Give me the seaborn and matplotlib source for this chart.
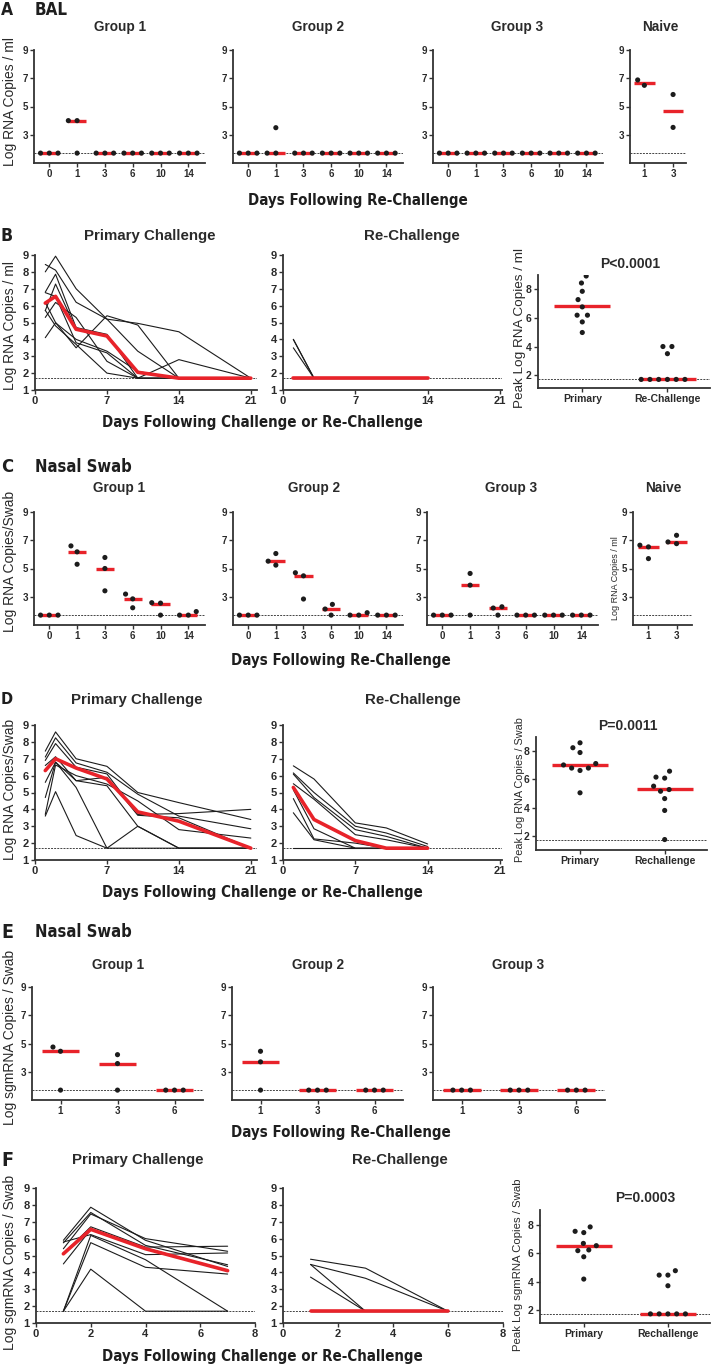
import numpy as np
import pandas as pd
import matplotlib
matplotlib.use("Agg")
import matplotlib.pyplot as plt
from matplotlib import font_manager
import seaborn as sns

# ---------------- data (log10 RNA copies, LOD = 1.7) ----------------
LOD = 1.7

# A - BAL, days after re-challenge
bal_days = ["0", "1", "3", "6", "10", "14"]
bal_g1 = [[1.7, 1.7, 1.7], [4.0, 4.0, 1.7], [1.7, 1.7, 1.7], [1.7, 1.7, 1.7], [1.7, 1.7, 1.7], [1.7, 1.7, 1.7]]
bal_g1_med = [1.7, 4.0, 1.7, 1.7, 1.7, 1.7]
bal_g2 = [[1.7, 1.7, 1.7], [3.5, 1.7, 1.7], [1.7, 1.7, 1.7], [1.7, 1.7, 1.7], [1.7, 1.7, 1.7], [1.7, 1.7, 1.7]]
bal_g2_med = [1.7, 1.7, 1.7, 1.7, 1.7, 1.7]
bal_g3 = [[1.7, 1.7, 1.7], [1.7, 1.7, 1.7], [1.7, 1.7, 1.7], [1.7, 1.7, 1.7], [1.7, 1.7, 1.7], [1.7, 1.7, 1.7]]
bal_g3_med = [1.7, 1.7, 1.7, 1.7, 1.7, 1.7]
naive_days = ["1", "3"]
bal_naive = [[6.88, 6.5], [5.85, 3.52]]
bal_naive_med = [6.69, 4.69]

# B - BAL, primary vs re-challenge kinetics
b_prim_days = [1, 2, 4, 7, 10, 14, 21]
b_prim = [
    [8.0, 8.93, 7.0, 5.2, 3.3, 1.7, 1.7],
    [8.44, 8.1, 6.2, 5.2, 4.95, 4.45, 1.7],
    [6.8, 7.86, 4.7, 4.3, 1.7, 2.8, 1.7],
    [5.7, 7.28, 4.6, 4.2, 2.05, 1.7, 1.7],
    [6.77, 6.55, 3.8, 3.2, 1.7, 1.7, 1.7],
    [6.19, 5.0, 3.5, 5.4, 4.85, 1.7, 1.7],
    [5.3, 6.19, 5.3, 2.7, 1.7, 1.7, 1.7],
    [5.72, 4.8, 3.7, 2.0, 1.7, 1.7, 1.7],
    [4.1, 4.98, 4.0, 3.3, 2.1, 1.7, 1.7],
]
b_prim_med = [6.15, 6.55, 4.6, 4.2, 2.05, 1.7, 1.7]
b_re_days = [1, 3, 7, 10, 14]
b_re = [
    [4.0, 1.7, 1.7, 1.7, 1.7],
    [4.0, 1.7, 1.7, 1.7, 1.7],
    [3.5, 1.7, 1.7, 1.7, 1.7],
    [1.7, 1.7, 1.7, 1.7, 1.7],
    [1.7, 1.7, 1.7, 1.7, 1.7],
    [1.7, 1.7, 1.7, 1.7, 1.7],
    [1.7, 1.7, 1.7, 1.7, 1.7],
    [1.7, 1.7, 1.7, 1.7, 1.7],
    [1.7, 1.7, 1.7, 1.7, 1.7],
]
b_re_med = [1.7, 1.7, 1.7, 1.7, 1.7]
b_peak_cats = ["Primary", "Re-Challenge"]
b_peak_prim = [8.93, 8.44, 7.86, 7.28, 6.77, 6.19, 6.19, 5.72, 4.98]
b_peak_re = [4.0, 4.0, 3.5, 1.7, 1.7, 1.7, 1.7, 1.7, 1.7]
b_peak_med = [6.8, 1.7]

# C - nasal swab, days after re-challenge
ns_g1 = [[1.7, 1.7, 1.7], [6.6, 6.18, 5.3], [5.78, 5.0, 3.42], [3.19, 2.85, 2.22], [2.58, 2.55, 1.7], [1.95, 1.7, 1.7]]
ns_g1_med = [1.7, 6.18, 5.0, 2.85, 2.52, 1.7]
ns_g2 = [[1.7, 1.7, 1.7], [6.06, 5.52, 5.24], [4.7, 4.48, 2.84], [2.46, 2.13, 1.7], [1.87, 1.7, 1.7], [1.7, 1.7, 1.7]]
ns_g2_med = [1.7, 5.52, 4.5, 2.13, 1.7, 1.7]
ns_g3 = [[1.7, 1.7, 1.7], [4.65, 3.82, 1.7], [2.29, 2.2, 1.7], [1.7, 1.7, 1.7], [1.7, 1.7, 1.7], [1.7, 1.7, 1.7]]
ns_g3_med = [1.7, 3.82, 2.2, 1.7, 1.7, 1.7]
ns_naive = [[6.65, 6.53, 5.7], [7.35, 6.76, 6.88]]
ns_naive_med = [6.55, 6.86]

# D - nasal swab kinetics
d_prim = [
    [7.45, 8.59, 7.0, 6.55, 5.0, 4.4, 3.4],
    [7.1, 8.24, 6.75, 6.2, 4.9, 3.6, 2.85],
    [6.9, 7.9, 6.5, 6.1, 3.7, 3.75, 4.0],
    [6.6, 7.12, 5.7, 5.9, 3.65, 3.5, 1.7],
    [6.3, 7.02, 6.45, 5.8, 3.85, 3.3, 1.7],
    [5.6, 6.8, 5.3, 1.7, 3.0, 1.7, 1.7],
    [4.7, 6.8, 5.7, 5.4, 3.0, 1.7, 1.7],
    [3.7, 6.63, 6.0, 5.5, 4.5, 2.8, 2.3],
    [3.6, 5.05, 2.45, 1.7, 1.7, 1.7, 1.7],
]
d_prim_med = [6.3, 7.0, 6.45, 5.8, 3.85, 3.3, 1.7]
d_re = [
    [6.58, 5.8, 3.2, 2.9, 1.95],
    [6.16, 5.0, 3.0, 2.6, 1.8],
    [6.09, 4.7, 2.8, 2.4, 1.7],
    [5.52, 4.6, 2.5, 2.2, 1.7],
    [5.28, 3.4, 2.15, 1.7, 1.7],
    [5.16, 2.85, 1.7, 1.7, 1.7],
    [4.64, 2.25, 2.0, 1.7, 1.7],
    [3.8, 2.2, 1.7, 1.7, 1.7],
    [1.7, 1.7, 1.7, 1.7, 1.7],
]
d_re_med = [5.3, 3.4, 2.15, 1.7, 1.7]
d_peak_cats = ["Primary", "Rechallenge"]
d_peak_prim = [8.59, 8.24, 7.9, 7.12, 7.02, 6.8, 6.8, 6.63, 5.05]
d_peak_re = [6.58, 6.16, 6.09, 5.52, 5.28, 5.16, 4.64, 3.8, 1.74]
d_peak_med = [7.0, 5.3]

# E - nasal swab sgmRNA
sg_days = ["1", "3", "6"]
sg_g1 = [[4.75, 4.45, 1.7], [4.21, 3.58, 1.7], [1.7, 1.7, 1.7]]
sg_g1_med = [4.45, 3.58, 1.7]
sg_g2 = [[4.45, 3.7, 1.7], [1.7, 1.7, 1.7], [1.7, 1.7, 1.7]]
sg_g2_med = [3.7, 1.7, 1.7]
sg_g3 = [[1.7, 1.7, 1.7], [1.7, 1.7, 1.7], [1.7, 1.7, 1.7]]
sg_g3_med = [1.7, 1.7, 1.7]

# F - sgmRNA kinetics
f_prim_days = [1, 2, 4, 7]
f_prim = [
    [5.9, 7.86, 5.9, 4.35],
    [5.75, 7.55, 5.6, 4.45],
    [5.4, 7.46, 6.0, 5.25],
    [5.1, 6.7, 5.5, 5.55],
    [4.5, 6.54, 5.45, 4.1],
    [5.8, 6.24, 5.05, 5.15],
    [1.7, 6.19, 4.75, 1.7],
    [1.7, 5.76, 4.3, 3.9],
    [1.7, 4.19, 1.7, 1.7],
]
f_prim_med = [5.1, 6.55, 5.4, 4.1]
f_re_days = [1, 3, 6]
f_re = [
    [4.78, 4.25, 1.7],
    [4.47, 3.65, 1.7],
    [4.47, 1.7, 1.7],
    [3.72, 1.7, 1.7],
    [1.7, 1.7, 1.7],
    [1.7, 1.7, 1.7],
    [1.7, 1.7, 1.7],
    [1.7, 1.7, 1.7],
    [1.7, 1.7, 1.7],
]
f_re_med = [1.7, 1.7, 1.7]
f_peak_prim = [7.86, 7.55, 7.46, 6.7, 6.54, 6.24, 6.19, 5.76, 4.19]
f_peak_re = [4.78, 4.47, 4.47, 3.72, 1.74, 1.74, 1.74, 1.74, 1.74]
f_peak_med = [6.54, 1.74]

# ---------------- style ----------------
sns.set_style("ticks")
plt.rcParams["font.family"] = ["Liberation Sans", "DejaVu Sans"]
plt.rcParams["font.weight"] = "bold"

# a condensed bold face for the panel headers / x labels, if one is installed
COND = {"family": ["Liberation Sans", "DejaVu Sans"]}
_fonts = font_manager.fontManager.ttflist
if any(f.name == "Liberation Sans Narrow" for f in _fonts):
    COND = {"family": ["Liberation Sans Narrow"]}
elif any(f.name == "DejaVu Sans" and "condensed" in str(f.stretch) for f in _fonts):
    COND = {"family": ["DejaVu Sans"], "stretch": "condensed"}

RED = "#e8232a"
DOT = "#1c1c1c"
LINE = "#1c1c1c"
AXC = "#333333"
TXT = "#2a2a2a"
DASH = "#444444"

W, H = 712, 1366
fig = plt.figure(figsize=(W / 100, H / 100), dpi=100)
to_fit = []


def px_ax(x0, x1, y0, y1):
    return fig.add_axes([x0 / W, 1 - y1 / H, (x1 - x0) / W, (y1 - y0) / H])


def txt(x, y, s, size, weight="bold", rot=0, ha="center"):
    return fig.text(x / W, 1 - y / H, s, fontsize=size, fontweight=weight, rotation=rot,
                    ha=ha, va="center", color=TXT, family=["Liberation Sans", "DejaVu Sans"])


def ctxt(x, y, s, size, width, ha="center"):
    # condensed header text, later scaled toward a width of `width` pixels
    t = fig.text(x / W, 1 - y / H, s, fontsize=size, fontweight="bold",
                 ha=ha, va="center", color="#1e1e1e", **COND)
    to_fit.append((t, width, size))
    return t


def clean(ax, fs):
    sns.despine(ax=ax)
    for s in ("left", "bottom"):
        ax.spines[s].set_color(AXC)
        ax.spines[s].set_linewidth(1.3)
    ax.tick_params(length=3, width=1, color=AXC, pad=1.5, labelsize=fs, labelcolor=TXT)
    ax.set_xlabel("")
    ax.set_ylabel("")


def dots(ax, cats, groups, meds, xlim, yticks=(3, 5, 7, 9), ylim=(1, 9), fs=7, half=0.33):
    df = pd.DataFrame({"cat": [c for c, g in zip(cats, groups) for _ in g],
                       "val": [v for g in groups for v in g]})
    ax.axhline(LOD, color=DASH, lw=0.7, ls=(0, (2, 1.2)), zorder=1)
    sns.swarmplot(data=df, x="cat", y="val", order=cats, color=DOT, size=3.7,
                  linewidth=2.3, edgecolor="none", ax=ax, zorder=3)
    pos = np.arange(len(cats))
    ax.hlines(meds, pos - half, pos + half, color=RED, lw=2.4, zorder=2)
    ax.set_xlim(*xlim)
    ax.set_ylim(*ylim)
    ax.set_yticks(list(yticks))
    clean(ax, fs)


def lines(ax, days, animals, meds, xlim, xticks, fs=8):
    df = pd.DataFrame({"animal": [i for i, a in enumerate(animals) for _ in a],
                       "day": [d for a in animals for d in days],
                       "val": [v for a in animals for v in a]})
    ax.axhline(LOD, color=DASH, lw=0.7, ls=(0, (2, 1.2)), zorder=1)
    sns.lineplot(data=df, x="day", y="val", units="animal", estimator=None,
                 color=LINE, lw=0.8, ax=ax)
    sns.lineplot(x=days, y=meds, color=RED, lw=2.6, ax=ax)
    ax.set_xlim(*xlim)
    ax.set_xticks(xticks)
    ax.set_ylim(1, 9)
    ax.set_yticks(range(1, 10))
    clean(ax, fs)


# ---------------- A ----------------
dots(px_ax(34, 205, 50, 163), bal_days, bal_g1, bal_g1_med, (-0.55, 5.6))
dots(px_ax(233, 403, 50, 163), bal_days, bal_g2, bal_g2_med, (-0.55, 5.6))
dots(px_ax(433, 603, 50, 163), bal_days, bal_g3, bal_g3_med, (-0.55, 5.6))
dots(px_ax(630, 686, 50, 163), naive_days, bal_naive, bal_naive_med, (-0.5, 1.45), half=0.36)
ctxt(1, 10, "A", 13, 12, ha="left")
ctxt(35, 10, "BAL", 13, 33, ha="left")
for x, s in [(120, "Group 1"), (318, "Group 2"), (517, "Group 3"), (660, "Naive")]:
    txt(x, 27, s, 9.8)
txt(10, 102, "Log RNA Copies / ml", 10, weight="normal", rot=90)
ctxt(358, 200, "Days Following Re-Challenge", 12, 192)

# ---------------- B ----------------
lines(px_ax(35, 257, 255, 390), b_prim_days, b_prim, b_prim_med, (0, 21.6), [0, 7, 14, 21])
lines(px_ax(283, 502, 255, 390), b_re_days, b_re, b_re_med, (0, 21.2), [0, 7, 14, 21])
dots(px_ax(538, 710, 275, 388), b_peak_cats, [b_peak_prim, b_peak_re], b_peak_med,
     (-0.52, 1.5), yticks=(2, 4, 6, 8), ylim=(1.1, 9), fs=7.5)
ctxt(1, 236, "B", 13, 12, ha="left")
txt(150, 236, "Primary Challenge", 10.8)
txt(412, 236, "Re-Challenge", 10.8)
txt(630, 264, "P<0.0001", 10)
txt(10, 326, "Log RNA Copies / ml", 10, weight="normal", rot=90)
txt(520, 328, "Peak Log RNA Copies / ml", 9.7, weight="normal", rot=90)
ctxt(262, 423, "Days Following Challenge or Re-Challenge", 12, 282)

# ---------------- C ----------------
dots(px_ax(34, 205, 512, 625), bal_days, ns_g1, ns_g1_med, (-0.55, 5.6))
dots(px_ax(233, 403, 512, 625), bal_days, ns_g2, ns_g2_med, (-0.55, 5.6))
dots(px_ax(427, 598, 512, 625), bal_days, ns_g3, ns_g3_med, (-0.55, 5.6))
dots(px_ax(633, 692, 512, 625), naive_days, ns_naive, ns_naive_med, (-0.55, 1.55), half=0.36)
ctxt(1, 467, "C", 13, 12, ha="left")
ctxt(35, 467, "Nasal Swab", 13, 97, ha="left")
for x, s in [(119, "Group 1"), (314, "Group 2"), (511, "Group 3"), (663, "Naive")]:
    txt(x, 488, s, 9.8)
txt(10, 561, "Log RNA Copies/Swab", 10, weight="normal", rot=90)
txt(615, 578, "Log RNA Copies / ml", 6.5, weight="normal", rot=90)
ctxt(341, 660, "Days Following Re-Challenge", 12, 192)

# ---------------- D ----------------
lines(px_ax(35, 257, 725, 860), b_prim_days, d_prim, d_prim_med, (0, 21.6), [0, 7, 14, 21])
lines(px_ax(283, 502, 725, 860), b_re_days, d_re, d_re_med, (0, 21.2), [0, 7, 14, 21])
dots(px_ax(536, 707, 737, 850), d_peak_cats, [d_peak_prim, d_peak_re], d_peak_med,
     (-0.52, 1.5), yticks=(2, 4, 6, 8), ylim=(1, 9), fs=7.5)
ctxt(1, 700, "D", 13, 12, ha="left")
txt(137, 700, "Primary Challenge", 10.8)
txt(413, 700, "Re-Challenge", 10.8)
txt(628, 726, "P=0.0011", 10)
txt(10, 789, "Log RNA Copies/Swab", 10, weight="normal", rot=90)
txt(520, 790, "Peak Log RNA Copies / Swab", 7.8, weight="normal", rot=90)
ctxt(262, 893, "Days Following Challenge or Re-Challenge", 12, 282)

# ---------------- E ----------------
dots(px_ax(32, 203, 987, 1100), sg_days, sg_g1, sg_g1_med, (-0.5, 2.5))
dots(px_ax(232, 403, 987, 1100), sg_days, sg_g2, sg_g2_med, (-0.5, 2.5))
dots(px_ax(433, 605, 987, 1100), sg_days, sg_g3, sg_g3_med, (-0.5, 2.5))
ctxt(1, 932, "E", 13, 12, ha="left")
ctxt(35, 932, "Nasal Swab", 13, 97, ha="left")
for x, s in [(118, "Group 1"), (318, "Group 2"), (518, "Group 3")]:
    txt(x, 965, s, 9.8)
txt(10, 1037, "Log sgmRNA Copies / Swab", 10, weight="normal", rot=90)
ctxt(341, 1132, "Days Following Re-Challenge", 12, 192)

# ---------------- F ----------------
lines(px_ax(36, 255, 1188, 1323), f_prim_days, f_prim, f_prim_med, (0, 8), [0, 2, 4, 6, 8])
lines(px_ax(283, 503, 1188, 1323), f_re_days, f_re, f_re_med, (0, 8), [0, 2, 4, 6, 8])
dots(px_ax(540, 710, 1210, 1323), d_peak_cats, [f_peak_prim, f_peak_re], f_peak_med,
     (-0.52, 1.5), yticks=(2, 4, 6, 8), ylim=(1.1, 9.05), fs=7.5)
ctxt(1, 1160, "F", 13, 12, ha="left")
txt(138, 1160, "Primary Challenge", 10.8)
txt(400, 1160, "Re-Challenge", 10.8)
txt(645, 1198, "P=0.0003", 10)
txt(10, 1262, "Log sgmRNA Copies / Swab", 10, weight="normal", rot=90)
txt(518, 1265, "Peak Log sgmRNA Copies / Swab", 8.2, weight="normal", rot=90)
ctxt(262, 1357, "Days Following Challenge or Re-Challenge", 12, 282)

# scale the condensed headers toward the original widths, without letting them shrink too much
renderer = fig.canvas.get_renderer()
for t, width, size in to_fit:
    w = t.get_window_extent(renderer).width
    fitted = size * width / w
    t.set_fontsize(min(size * 1.1, max(fitted, size * 0.9)))

fig.savefig("out.png", dpi=100, facecolor="white")
